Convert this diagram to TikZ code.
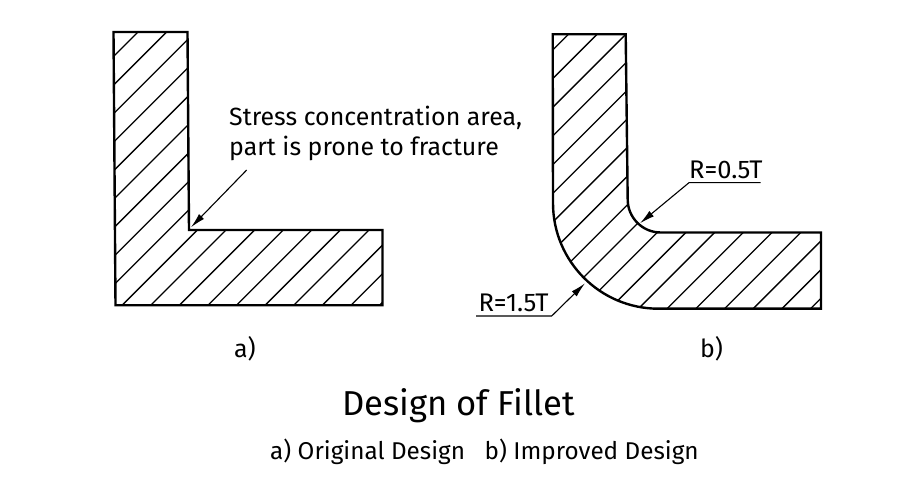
\documentclass[tikz,border=0pt]{standalone}
\usepackage{fontspec}
\setmainfont{Fira Sans}
\usetikzlibrary{arrows.meta}
\tikzset{
    outline/.style={line width=2.4pt, line join=miter},
    hatch/.style={line width=1.3pt},
    leader/.style={line width=1.1pt, -{Latex[length=15pt, width=7pt]}},
    notetext/.style={anchor=base west, inner sep=0pt, font=\fontsize{24.9}{24.9}\selectfont},
    radiustext/.style={anchor=base west, inner sep=0pt, font=\fontsize{25.5}{25.5}\selectfont},
    legendtext/.style={anchor=base west, inner sep=0pt, font=\fontsize{24.3}{24.3}\selectfont},
    titletext/.style={anchor=base west, inner sep=0pt, font=\fontsize{34.6}{34.6}\selectfont},
}
\begin{document}
\begin{tikzpicture}[x=1pt, y=1pt]
    \useasboundingbox (0, 0) rectangle (911, 500);

    % left part, sharp corner
    \begin{scope}
        \clip (113.5, 468) -- (187.5, 468) -- (189, 270) -- (382.5, 270) -- (382.5, 194.7) -- (115.5, 194.7) -- cycle;
        \foreach \k in {0, ..., 18} {
            \pgfmathsetmacro{\c}{170 + 28.6 * \k}
            \draw[hatch] (\c - 500, 0) -- (\c, 500);
        }
    \end{scope}
    \draw[outline] (113.5, 468) -- (187.5, 468) -- (189, 270) -- (382.5, 270) -- (382.5, 194.7) -- (115.5, 194.7) -- cycle;

    % right part, with fillets
    \begin{scope}
        \clip (552.7, 465.7) -- (625.7, 465.7) -- (627.7, 300.5) arc[start angle=180, end angle=270, radius=33] -- (821, 267.5) -- (821, 191.3) -- (658.5, 191.3) arc[start angle=270, end angle=180, radius=105.5] -- cycle;
        \foreach \k in {0, ..., 18} {
            \pgfmathsetmacro{\c}{602.7 + 28.7 * \k}
            \draw[hatch] (\c - 500, 0) -- (\c, 500);
        }
    \end{scope}
    \draw[outline] (552.7, 465.7) -- (625.7, 465.7) -- (627.7, 300.5) arc[start angle=180, end angle=270, radius=33] -- (821, 267.5) -- (821, 191.3) -- (658.5, 191.3) arc[start angle=270, end angle=180, radius=105.5] -- cycle;

    % labels
    \node[notetext] (stressa) at (229, 374) {Stress concentration area,};
    \node[notetext] (stressb) at (229, 344) {part is prone to fracture};
    \node[radiustext] (smallr) at (689, 321.7) {R=0.5T};
    \node[radiustext] (larger) at (478.3, 188.3) {R=1.5T};
    \node[notetext] (suba) at (234, 142) {a)};
    \node[notetext] (subb) at (700, 142) {b)};
    \node[titletext] (title) at (342, 84) {Design of Fillet};
    \node[legendtext] (legenda) at (270, 40) {a) Original Design};
    \node[legendtext] (legendb) at (484.5, 40) {b) Improved Design};

    % leaders
    \coordinate (stressfrom) at (246.7, 330);
    \coordinate (stresstip) at (191, 272.7);
    \coordinate (smallend) at (760.7, 317.3);
    \coordinate (smallknee) at (689, 317.3);
    \coordinate (smalltip) at (640, 276.7);
    \coordinate (largeend) at (476, 184);
    \coordinate (largeknee) at (551.7, 184);
    \coordinate (largetip) at (585, 216.7);

    \draw[leader] (stressfrom) -- (stresstip);
    \draw[leader] (smallend) -- (smallknee) -- (smalltip);
    \draw[leader] (largeend) -- (largeknee) -- (largetip);
\end{tikzpicture}
\end{document}
